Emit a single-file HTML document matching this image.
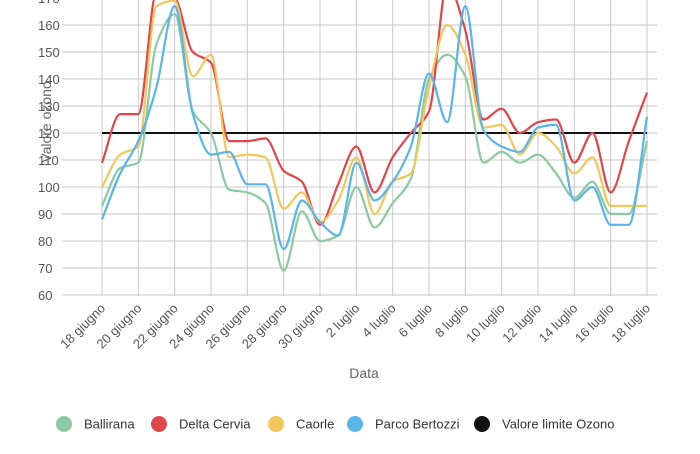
<!DOCTYPE html>
<html><head><meta charset="utf-8"><style>
body{margin:0;background:#fff;}
svg{display:block;font-family:"Liberation Sans",sans-serif;}
</style></head><body>
<svg id="chart" width="700" height="454" viewBox="0 0 700 454">
<g id="grid"></g>
<g id="yticks"></g>
<g id="xticks"></g>
<g id="series"></g>
<text x="0" y="0" transform="translate(51,122) rotate(-90)" text-anchor="middle" font-size="14" fill="#666">Valore ozono</text>
<text x="364" y="378" text-anchor="middle" font-size="14" fill="#666">Data</text>
<g id="legend"></g>
</svg>
<script>
const days = 31;
const xLabels = ["18 giugno","20 giugno","22 giugno","24 giugno","26 giugno","28 giugno","30 giugno","2 luglio","4 luglio","6 luglio","8 luglio","10 luglio","12 luglio","14 luglio","16 luglio","18 luglio"];
const yTicks = [60,70,80,90,100,110,120,130,140,150,160,170];
const seriesNames = ["Ballirana","Delta Cervia","Caorle","Parco Bertozzi","Valore limite Ozono"];
const ballirana = [93,107,109,153,164,128,120,99,98,94,69,91,80,82,100,85,94,103,140,149,141,109,113,109,112,105,96,102,90,90,117];
const deltaCervia = [109,127,127,172,170,150,146,117,117,118,106,102,86,101,115,98,111,120,128,175,158,125,129,120,124,125,109,120,98,117,135];
const caorle = [100,112,115,167,169,141,149,111,112,111,92,98,87,95,111,90,102,105,137,160,149,122,123,112,120,115,105,111,93,93,93];
const parcoBertozzi = [88,105,117,137,167,127,112,113,101,101,77,95,87,82,109,95,102,115,142,124,167,121,115,113,122,123,95,100,86,86,126];
const limitValue = 120;
const colors = ["#8ccaa2","#e0474c","#f2c75c","#5bb5e6","#111"];

const X0=102, X1=647, Y60=295, PX10=27;
const xs = d => X0 + (X1-X0)*d/(days-1);
const ys = v => Y60 - (v-60)*PX10/10;
const NS="http://www.w3.org/2000/svg";
function mk(tag, attrs, parent){const e=document.createElementNS(NS,tag);for(const k in attrs)e.setAttribute(k,attrs[k]);parent.appendChild(e);return e;}

const grid=document.getElementById('grid');
yTicks.forEach(v=>{
  const l=mk('line',{x1:62,x2:657,y1:ys(v),y2:ys(v),stroke:'#c8c8c8','stroke-width':1},grid);
  
  
});
xLabels.forEach((s,i)=>{
  const x=xs(i*2);
  const l=mk('line',{x1:x,x2:x,y1:0,y2:ys(60)+1,stroke:'#c8c8c8','stroke-width':1},grid);
  
  
});
const yt=document.getElementById('yticks');
yTicks.forEach(v=>{
  const t=mk('text',{x:38,y:ys(v)+5,'font-size':13,fill:'#555'},yt);
  t.textContent=v;
  
  
});
const xt=document.getElementById('xticks');
xLabels.forEach((s,i)=>{
  const x=xs(i*2)+4, y=ys(60)+14;
  const t=mk('text',{x:0,y:0,'font-size':13,fill:'#555','text-anchor':'end',transform:`translate(${x},${y}) rotate(-45)`},xt);
  t.textContent=s;
  
  
});

function monotonePath(vals){
  const n=vals.length, px=vals.map((v,i)=>xs(i)), py=vals.map(ys);
  const dx=[],m=[],t=new Array(n);
  for(let i=0;i<n-1;i++){dx[i]=px[i+1]-px[i];m[i]=(py[i+1]-py[i])/dx[i];}
  t[0]=m[0];t[n-1]=m[n-2];
  for(let i=1;i<n-1;i++){
    if(m[i-1]*m[i]<=0)t[i]=0;
    else{const h=dx[i-1],h2=dx[i];t[i]=3*(h+h2)/((2*h2+h)/m[i-1]+(h2+2*h)/m[i]);}
  }
  let d=`M${px[0]},${py[0]}`;
  for(let i=0;i<n-1;i++){
    const h=dx[i]/3;
    d+=`C${px[i]+h},${py[i]+t[i]*h} ${px[i+1]-h},${py[i+1]-t[i+1]*h} ${px[i+1]},${py[i+1]}`;
  }
  return d;
}
const sg=document.getElementById('series');
const lim=mk('line',{x1:xs(0),x2:xs(days-1),y1:ys(limitValue),y2:ys(limitValue),stroke:colors[4],'stroke-width':2},sg);


[ballirana,deltaCervia,caorle,parcoBertozzi].forEach((arr,i)=>{
  const p=mk('path',{d:monotonePath(arr),fill:'none',stroke:colors[i],'stroke-width':2.2},sg);
  
  
});

const lg=document.getElementById('legend');
const lx=[64,159,276,355,482];
seriesNames.forEach((s,i)=>{
  const g=mk('g',{},lg);
  
  
  mk('circle',{cx:lx[i],cy:424,r:8,fill:colors[i]},g);
  const t=mk('text',{x:lx[i]+20,y:428.5,'font-size':13,fill:'#333'},g);
  t.textContent=s;
});
</script>
</body></html>
